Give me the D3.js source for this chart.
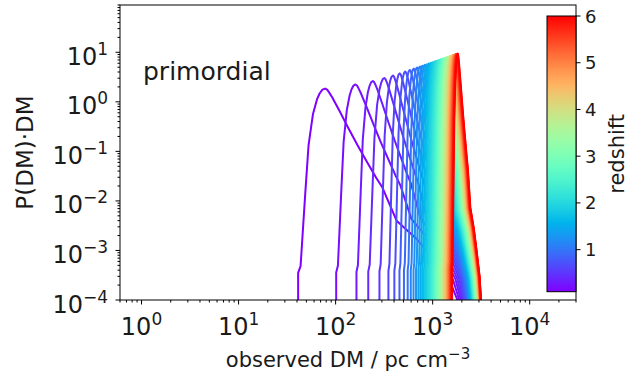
<!DOCTYPE html>
<html>
<head>
<meta charset="utf-8">
<script src="https://cdn.jsdelivr.net/npm/d3@7"></script>
<style>
  body { margin: 0; background: #fff; }
  svg { display: block; font-family: "DejaVu Sans", sans-serif; }
</style>
</head>
<body>
<svg id="chart" width="644" height="378"></svg>
<script>
// one curve per redshift
const redshifts = [0.1, 0.2, 0.3, 0.4, 0.5, 0.6, 0.7, 0.8, 0.9, 1.0,
                   1.1, 1.2, 1.3, 1.4, 1.5, 1.6, 1.7, 1.8, 1.9, 2.0,
                   2.1, 2.2, 2.3, 2.4, 2.5, 2.6, 2.7, 2.8, 2.9, 3.0,
                   3.1, 3.2, 3.3, 3.4, 3.5, 3.6, 3.7, 3.8, 3.9, 4.0,
                   4.1, 4.2, 4.3, 4.4, 4.5, 4.6, 4.7, 4.8, 4.9, 5.0,
                   5.1, 5.2, 5.3, 5.4, 5.5, 5.6, 5.7, 5.8, 5.9, 6.0];

// DM where each curve peaks
const peakDM = [78, 160, 242, 318, 390, 458, 522, 582, 638, 690,
                739, 785, 829, 871, 911, 949, 985, 1019, 1051, 1082,
                1112, 1141, 1169, 1196, 1222, 1247, 1271, 1294, 1317, 1339,
                1360, 1381, 1401, 1421, 1440, 1459, 1477, 1495, 1513, 1530,
                1547, 1564, 1580, 1596, 1612, 1627, 1642, 1657, 1672, 1686,
                1700, 1714, 1728, 1741, 1754, 1767, 1780, 1793, 1805, 1817];

// P(DM)*DM at the peak
const peakValue = [1.85, 2.24, 2.63, 3.02, 3.39, 3.75, 4.09, 4.40, 4.68, 4.92,
                   5.15, 5.36, 5.56, 5.74, 5.92, 6.08, 6.23, 6.37, 6.51, 6.64,
                   6.76, 6.88, 6.99, 7.10, 7.20, 7.30, 7.39, 7.48, 7.57, 7.65,
                   7.73, 7.80, 7.88, 7.95, 8.02, 8.09, 8.16, 8.23, 8.29, 8.35,
                   8.41, 8.47, 8.53, 8.59, 8.65, 8.70, 8.75, 8.80, 8.86, 8.91,
                   8.96, 9.01, 9.06, 9.10, 9.15, 9.19, 9.23, 9.28, 9.32, 9.36];

// DM where each curve leaves the bottom of the plot
const onsetDM = [41.1, 101.4, 164, 217, 283, 350, 403, 455, 506, 553,
                 595, 635, 674, 712, 747, 780, 812, 842, 870, 898,
                 925, 952, 977, 1002, 1026, 1049, 1069, 1091, 1110, 1131,
                 1152, 1170, 1189, 1206, 1225, 1242, 1260, 1275, 1293, 1308,
                 1326, 1340, 1357, 1371, 1388, 1401, 1417, 1430, 1446, 1458,
                 1474, 1486, 1498, 1513, 1524, 1536, 1550, 1562, 1572, 1586];

// DM where the tail drops back to the bottom
const endDM = [1800, 1880, 1950, 2010, 2070, 2120, 2170, 2220, 2260, 2300,
               2340, 2380, 2410, 2440, 2470, 2500, 2530, 2560, 2580, 2600,
               2620, 2640, 2660, 2680, 2700, 2720, 2740, 2760, 2780, 2800,
               2815, 2830, 2845, 2860, 2875, 2890, 2905, 2920, 2935, 2950,
               2962, 2974, 2986, 2998, 3010, 3022, 3034, 3046, 3058, 3070,
               3078, 3086, 3094, 3102, 3110, 3118, 3126, 3134, 3142, 3150];

// shape of the rise and the tail, taken from the z = 0.1 curve
// [fraction of log-DM span, fraction of log height above the floor]
const riseProfile = [[0, 0], [0, 0.128], [0.09, 0.16], [0.26, 0.497], [0.386, 0.733],
                     [0.55, 0.88], [0.7, 0.95], [0.8, 0.978], [0.9, 0.995], [1, 1]];
const tailProfile = [[0.015, 0.995], [0.03, 0.982], [0.054, 0.958], [0.107, 0.896], [0.174, 0.815],
                     [0.244, 0.733], [0.311, 0.659], [0.388, 0.576], [0.433, 0.532],
                     [0.54, 0.375], [0.69, 0.29], [0.81, 0.2], [0.94, 0.094], [1, 0]];

const xTicks = [1, 10, 100, 1000, 10000];
const xTickExp = ["0", "1", "2", "3", "4"];
const yTicks = [10, 1, 0.1, 0.01, 0.001, 0.0001];
const yTickExp = ["1", "0", "\u22121", "\u22122", "\u22123", "\u22124"];
const zTicks = [1, 2, 3, 4, 5, 6];

const svg = d3.select("#chart");
const margin = {left: 120, right: 576, top: 5, bottom: 300};
const yFloor = 1e-4;

const x = d3.scaleLog().domain([0.6, 30000]).range([margin.left, margin.right]);
const y = d3.scaleLog().domain([yFloor, 90]).range([margin.bottom, margin.top]);
const zScale = d3.scaleLinear().domain([0.1, 6]).range([291.7, 16]);

// matplotlib "rainbow" colormap
function rainbow(t) {
    const c = v => Math.round(255 * Math.max(0, Math.min(1, v)));
    return d3.rgb(c(Math.abs(2 * t - 0.5)), c(Math.sin(Math.PI * t)), c(Math.cos(Math.PI * t / 2))).formatHex();
}
const color = z => rainbow((z - 0.1) / 5.9);

svg.append("rect").attr("width", 644).attr("height", 378).attr("fill", "#fff");

svg.append("clipPath").attr("id", "plot-clip")
    .append("rect")
    .attr("x", margin.left).attr("y", margin.top)
    .attr("width", margin.right - margin.left)
    .attr("height", margin.bottom - margin.top);

function curvePoints(i) {
    const lo = Math.log10(onsetDM[i]);
    const pk = Math.log10(peakDM[i]);
    const hi = Math.log10(endDM[i]);
    const base = Math.log10(yFloor);
    const h = Math.log10(peakValue[i]) - base;
    const rise = riseProfile.map(([t, f]) => [Math.pow(10, lo + t * (pk - lo)), Math.pow(10, base + f * h)]);
    const tail = tailProfile.map(([t, f]) => [Math.pow(10, pk + t * (hi - pk)), Math.pow(10, base + f * h)]);
    return rise.concat(tail);
}

const line = d3.line()
    .x(d => x(d[0]))
    .y(d => y(d[1]));

const curves = svg.append("g").attr("clip-path", "url(#plot-clip)");
redshifts.forEach((z, i) => {
    curves.append("path")
        .datum(curvePoints(i))
        .attr("fill", "none")
        .attr("stroke", color(z))
        .attr("stroke-width", 2)
        .attr("stroke-linejoin", "round")
        .attr("d", line);
});

// minor ticks for the log axes
function minorTicks(domain) {
    const out = [];
    for (let d = -5; d <= 5; d++) {
        for (let k = 2; k <= 9; k++) {
            const v = k * Math.pow(10, d);
            if (v >= domain[0] && v <= domain[1]) out.push(v);
        }
    }
    return out;
}

const axes = svg.append("g").attr("stroke", "#000").attr("stroke-width", 1);
minorTicks(x.domain()).forEach(v => {
    axes.append("line").attr("x1", x(v)).attr("x2", x(v))
        .attr("y1", margin.bottom).attr("y2", margin.bottom + 2.5);
});
xTicks.forEach(v => {
    axes.append("line").attr("x1", x(v)).attr("x2", x(v))
        .attr("y1", margin.bottom).attr("y2", margin.bottom + 4.5);
});
minorTicks(y.domain()).forEach(v => {
    axes.append("line").attr("y1", y(v)).attr("y2", y(v))
        .attr("x1", margin.left).attr("x2", margin.left - 2.5);
});
yTicks.forEach(v => {
    axes.append("line").attr("y1", y(v)).attr("y2", y(v))
        .attr("x1", margin.left).attr("x2", margin.left - 4.5);
});

// frame
svg.append("rect")
    .attr("x", margin.left).attr("y", margin.top)
    .attr("width", margin.right - margin.left)
    .attr("height", margin.bottom - margin.top)
    .attr("fill", "none").attr("stroke", "#000").attr("stroke-width", 1);

// tick labels as 10^n
xTicks.forEach((v, i) => {
    const t = svg.append("text")
        .attr("x", x(v)).attr("y", 335)
        .attr("text-anchor", "middle")
        .attr("font-size", 24).attr("fill", "#1a1a1a");
    t.append("tspan").text("10");
    t.append("tspan").attr("dy", -10).attr("font-size", 17).text(xTickExp[i]);
});
yTicks.forEach((v, i) => {
    const t = svg.append("text")
        .attr("x", 108).attr("y", y(v) + 12.5)
        .attr("text-anchor", "end")
        .attr("font-size", 24).attr("fill", "#1a1a1a");
    t.append("tspan").text("10");
    t.append("tspan").attr("dy", -10).attr("font-size", 17).text(yTickExp[i]);
});

// axis labels
const xl = svg.append("text")
    .attr("x", (margin.left + margin.right) / 2).attr("y", 367)
    .attr("text-anchor", "middle")
    .attr("font-size", 21).attr("fill", "#1a1a1a");
xl.append("tspan").text("observed DM / pc cm");
xl.append("tspan").attr("dy", -8).attr("font-size", 15).text("\u22123");

svg.append("text")
    .attr("transform", "translate(33," + (margin.top + margin.bottom) / 2 + ") rotate(-90)")
    .attr("text-anchor", "middle")
    .attr("font-size", 23).attr("fill", "#1a1a1a")
    .text("P(DM)\u00b7DM");

svg.append("text")
    .attr("x", 143).attr("y", 80)
    .attr("font-size", 25).attr("fill", "#1a1a1a")
    .text("primordial");

// colorbar inside the axes, right edge on the spine
const grad = svg.append("defs").append("linearGradient")
    .attr("id", "zgrad")
    .attr("x1", 0).attr("y1", 1).attr("x2", 0).attr("y2", 0);
d3.range(0, 1.0001, 0.05).forEach(t => {
    grad.append("stop").attr("offset", t).attr("stop-color", rainbow(t));
});
svg.append("rect")
    .attr("x", 547).attr("y", zScale(6))
    .attr("width", margin.right - 547)
    .attr("height", zScale(0.1) - zScale(6))
    .attr("fill", "url(#zgrad)")
    .attr("stroke", "#000").attr("stroke-width", 1);

zTicks.forEach(v => {
    svg.append("line")
        .attr("x1", margin.right).attr("x2", margin.right + 4.5)
        .attr("y1", zScale(v)).attr("y2", zScale(v))
        .attr("stroke", "#000");
    svg.append("text")
        .attr("x", 585).attr("y", zScale(v) + 6.5)
        .attr("font-size", 18).attr("fill", "#1a1a1a")
        .text(v);
});

svg.append("text")
    .attr("transform", "translate(624," + (zScale(6) + zScale(0.1)) / 2 + ") rotate(-90)")
    .attr("text-anchor", "middle")
    .attr("font-size", 21).attr("fill", "#1a1a1a")
    .text("redshift");
</script>
</body>
</html>
